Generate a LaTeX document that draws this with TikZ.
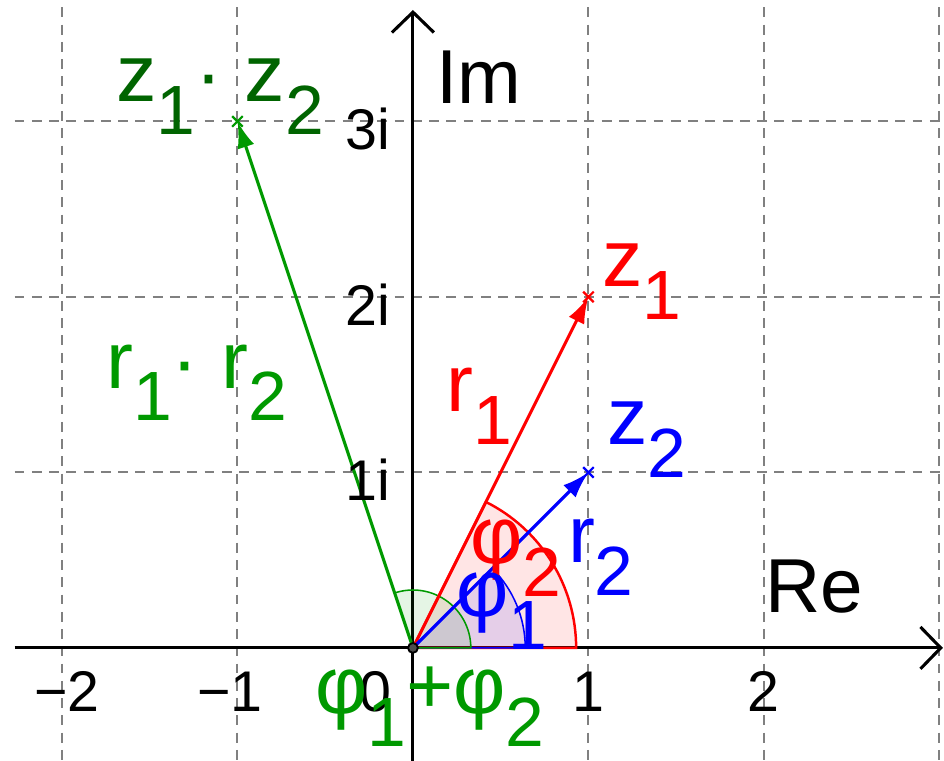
\documentclass[tikz,border=0pt]{standalone}
\usepackage{fontspec}
\setmainfont{Liberation Sans}
\usetikzlibrary{arrows.meta}
\definecolor{vgreen}{RGB}{0,153,0}
\definecolor{dgreen}{RGB}{0,100,0}
\definecolor{gridgray}{RGB}{128,128,128}
\definecolor{dotgray}{RGB}{77,77,77}
\newcommand{\lowsub}[1]{\raisebox{-5.3pt}{\fontsize{11.3}{12}\selectfont #1}}

\begin{document}
\begin{tikzpicture}[
    gridline/.style={gridgray, line width=0.32pt, dash pattern=on 1.6pt off 1.2pt},
    axis/.style={line width=0.5pt, -{Straight Barb[length=3.3pt,width=6.8pt]}},
    vec/.style={line width=0.5pt, -{Latex[length=4.3pt,width=2.8pt]}},
    cross/.style={line width=0.35pt},
    big/.style={inner sep=0pt, anchor=base west, font=\fontsize{13.1}{15}\selectfont},
    axlabel/.style={inner sep=0pt, anchor=base west, font=\fontsize{12.4}{14}\selectfont},
    tick/.style={inner sep=0pt, font=\fontsize{9.3}{11}\selectfont}
  ]
  \useasboundingbox (-2.353,-0.644) rectangle (3.026,3.692);

  % grid
  \foreach \x in {-2,-1,1,2,3}
    \draw[gridline] (\x,3.65) -- (\x,-0.644);
  \foreach \y in {1,2,3}
    \draw[gridline] (-2.27,\y) -- (3.026,\y);

  % axes
  \coordinate (O) at (0,0);
  \coordinate (xstart) at (-2.27,0);
  \coordinate (xend) at (3.02,0);
  \coordinate (ystart) at (0,-0.644);
  \coordinate (yend) at (0,3.635);
  \draw[axis] (xstart) -- (xend);
  \draw[axis] (ystart) -- (yend);

  % the numbers
  \coordinate (z1) at (1,2);
  \coordinate (z2) at (1,1);
  \coordinate (zz) at (-1,3);

  % angles
  \filldraw[red, fill opacity=0.1, line width=0.4pt] (O) -- (0.93,0) arc[start angle=0, end angle=63.43, radius=0.93] -- cycle;
  \filldraw[blue, fill opacity=0.1, line width=0.25pt] (O) -- (0.64,0) arc[start angle=0, end angle=45, radius=0.64] -- cycle;
  \filldraw[vgreen, fill opacity=0.1, line width=0.25pt] (O) -- (0.33,0) arc[start angle=0, end angle=108.43, radius=0.33] -- cycle;

  % vectors
  \draw[vec, red] (O) -- (z1);
  \draw[vec, blue] (O) -- (z2);
  \draw[vec, vgreen] (O) -- (zz);

  % point marks
  \foreach \p/\c in {z1/red, z2/blue, zz/vgreen}
    \draw[cross, \c] (\p) ++(-0.03,-0.03) -- ++(0.06,0.06) (\p) ++(-0.03,0.03) -- ++(0.06,-0.06);
  \filldraw[fill=dotgray, draw=black, line width=0.3pt] (O) circle (0.028);

  % axis labels
  \node[axlabel] (im) at (0.125,3.105) {Im};
  \node[axlabel] (re) at (2.0,0.199) {Re};
  \node[tick, anchor=base] (xm2) at (-1.972,-0.365) {−2};
  \node[tick, anchor=base] (xm1) at (-1.043,-0.365) {−1};
  \node[tick, anchor=base] (x0) at (-0.211,-0.365) {0};
  \node[tick, anchor=base] (x1) at (1,-0.365) {1};
  \node[tick, anchor=base] (x2) at (2,-0.365) {2};
  \node[tick, anchor=base east] (y1) at (-0.12,0.838) {1i};
  \node[tick, anchor=base east] (y2) at (-0.12,1.838) {2i};
  \node[tick, anchor=base east] (y3) at (-0.12,2.838) {3i};

  % labels
  \node[big, red] (lz1) at (1.073,2.057) {z\lowsub{1}};
  \node[big, blue] (lz2) at (1.100,1.157) {z\lowsub{2}};
  \node[big, dgreen] (lzz) at (-1.696,3.111) {z\lowsub{1}· z\lowsub{2}};
  \node[big, red] (lr1) at (0.182,1.345) {r\lowsub{1}};
  \node[big, blue] (lr2) at (0.877,0.484) {r\lowsub{2}};
  \node[big, vgreen] (lrr) at (-1.755,1.481) {r\lowsub{1}· r\lowsub{2}};
  \node[big, red] (lp2) at (0.319,0.479) {φ\lowsub{2}};
  \node[big, blue] (lp1) at (0.239,0.177) {φ\lowsub{1}};
  \node[big, vgreen] (lpp) at (-0.564,-0.376) {φ\lowsub{1}+φ\lowsub{2}};
\end{tikzpicture}
\end{document}
